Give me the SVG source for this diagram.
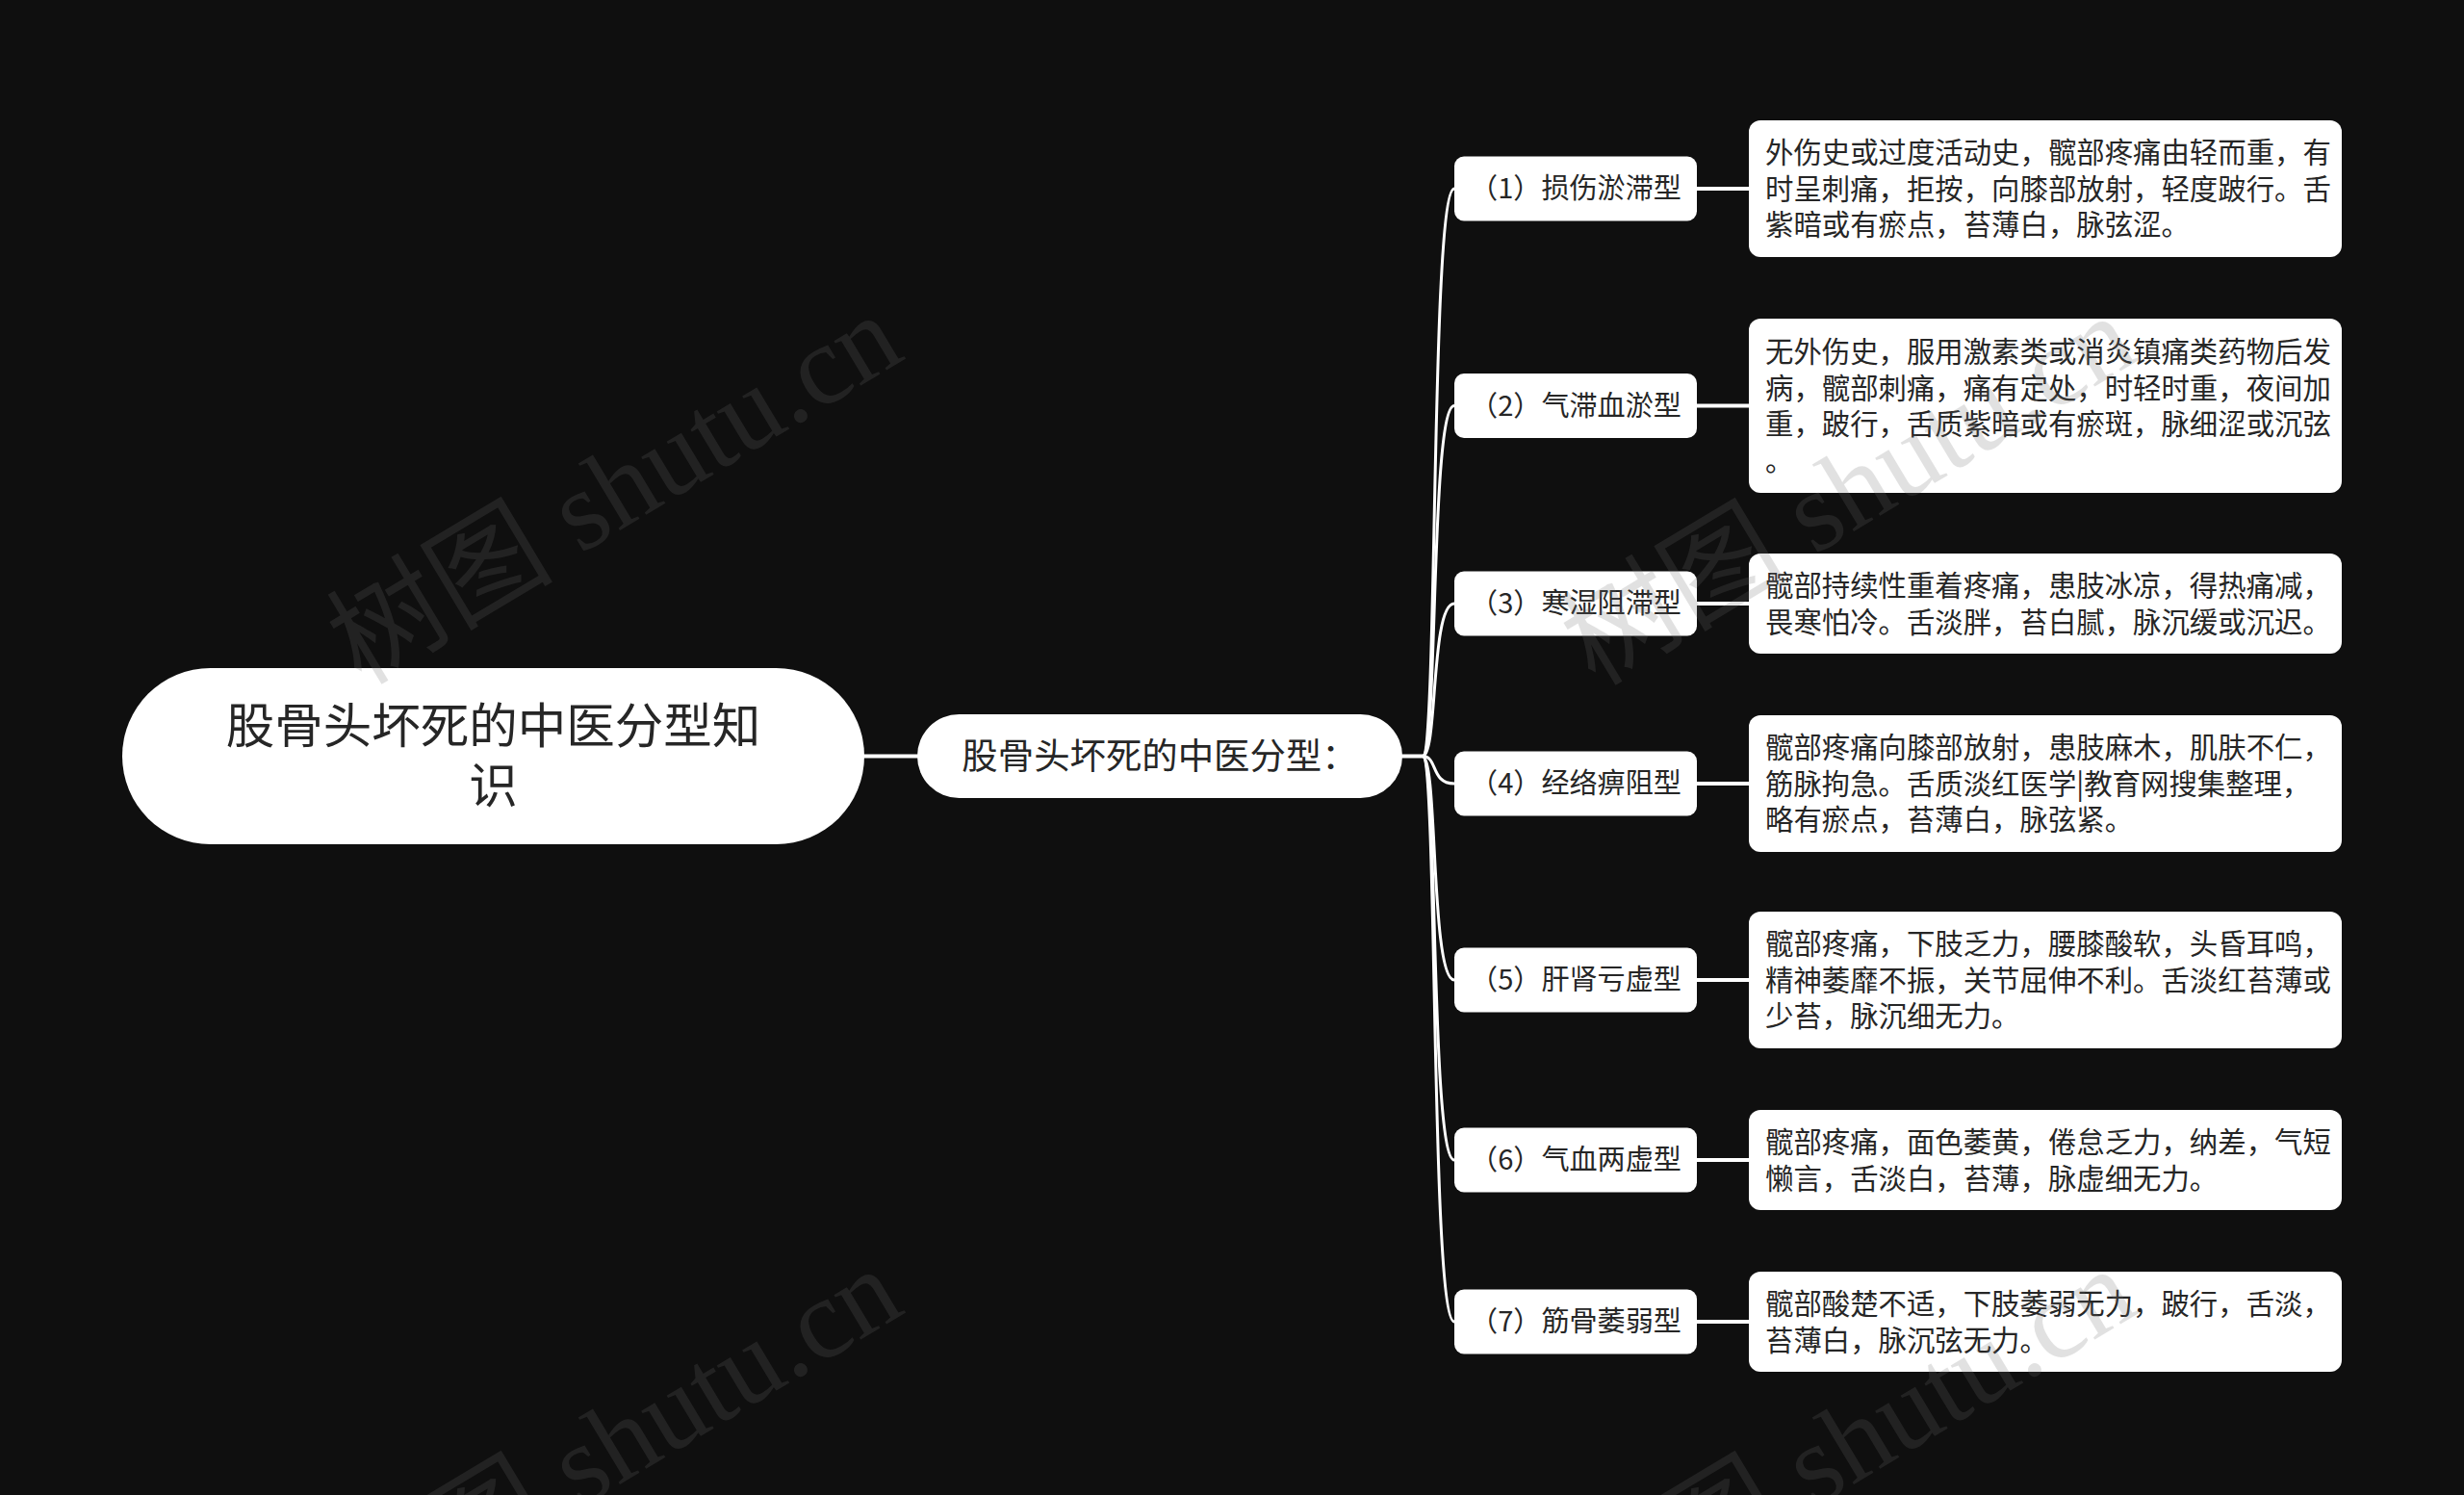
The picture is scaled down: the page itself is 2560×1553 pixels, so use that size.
<svg xmlns="http://www.w3.org/2000/svg" width="2560" height="1553" viewBox="0 0 2560 1553">
<style>
.bg{fill:#0f0f0f}
.node{fill:#ffffff}
.t{font-family:"Noto Sans CJK SC","Noto Sans",sans-serif;fill:#262626}
.root{font-size:50.5px}
.l1{font-size:37.4px}
.l2{font-size:29.1px}
.desc{font-size:29.4px}
.conn{fill:none;stroke:#ffffff;stroke-linecap:round}
.wm{font-family:"Liberation Serif","Noto Sans CJK SC",serif;font-size:118px;fill:#707070;opacity:0.2}
</style>
<rect class="bg" x="0" y="0" width="2560" height="1553"/>
<g id="connectors">
<path class="conn" stroke-width="4" d="M898 785.5 H953"/>
<path class="conn" stroke-width="4" d="M1457 785.5 H1478"/>
<path class="conn" stroke-width="3" d="M1478 785.5 C1494 785.5 1486 196 1511 196"/>
<path class="conn" stroke-width="3" d="M1478 785.5 C1494 785.5 1486 421.5 1511 421.5"/>
<path class="conn" stroke-width="3" d="M1478 785.5 C1494 785.5 1486 627 1511 627"/>
<path class="conn" stroke-width="3" d="M1478 785.5 C1494 785.5 1486 814 1511 814"/>
<path class="conn" stroke-width="3" d="M1478 785.5 C1494 785.5 1486 1018 1511 1018"/>
<path class="conn" stroke-width="3" d="M1478 785.5 C1494 785.5 1486 1205 1511 1205"/>
<path class="conn" stroke-width="3" d="M1478 785.5 C1494 785.5 1486 1373 1511 1373"/>
<path class="conn" stroke-width="4" d="M1763 196 H1817"/>
<path class="conn" stroke-width="4" d="M1763 421.5 H1817"/>
<path class="conn" stroke-width="4" d="M1763 627 H1817"/>
<path class="conn" stroke-width="4" d="M1763 814 H1817"/>
<path class="conn" stroke-width="4" d="M1763 1018 H1817"/>
<path class="conn" stroke-width="4" d="M1763 1205 H1817"/>
<path class="conn" stroke-width="4" d="M1763 1373 H1817"/>
</g>
<g id="root">
<rect class="node" x="127" y="694" width="771" height="183" rx="91.5"/>
<text class="t root" x="512.5" text-anchor="middle"><tspan x="512.5" y="772">股骨头坏死的中医分型知</tspan><tspan x="512.5" y="834">识</tspan></text>
</g>
<g id="main">
<rect class="node" x="953" y="742" width="504" height="87" rx="43.5"/>
<text class="t l1" x="1205" y="799" text-anchor="middle">股骨头坏死的中医分型：</text>
</g>
<g id="type1">
<rect class="node" x="1511" y="162.5" width="252" height="67" rx="10"/>
<text class="t l2" x="1637" y="206" text-anchor="middle">（1）损伤淤滞型</text>
</g>
<g id="type2">
<rect class="node" x="1511" y="388" width="252" height="67" rx="10"/>
<text class="t l2" x="1637" y="431.5" text-anchor="middle">（2）气滞血淤型</text>
</g>
<g id="type3">
<rect class="node" x="1511" y="593.5" width="252" height="67" rx="10"/>
<text class="t l2" x="1637" y="637" text-anchor="middle">（3）寒湿阻滞型</text>
</g>
<g id="type4">
<rect class="node" x="1511" y="780.5" width="252" height="67" rx="10"/>
<text class="t l2" x="1637" y="824" text-anchor="middle">（4）经络痹阻型</text>
</g>
<g id="type5">
<rect class="node" x="1511" y="984.5" width="252" height="67" rx="10"/>
<text class="t l2" x="1637" y="1028" text-anchor="middle">（5）肝肾亏虚型</text>
</g>
<g id="type6">
<rect class="node" x="1511" y="1171.5" width="252" height="67" rx="10"/>
<text class="t l2" x="1637" y="1215" text-anchor="middle">（6）气血两虚型</text>
</g>
<g id="type7">
<rect class="node" x="1511" y="1339.5" width="252" height="67" rx="10"/>
<text class="t l2" x="1637" y="1383" text-anchor="middle">（7）筋骨萎弱型</text>
</g>
<g id="desc1">
<rect class="node" x="1817" y="125" width="616" height="142" rx="12"/>
<text class="t desc"><tspan x="1834" y="169">外伤史或过度活动史，髋部疼痛由轻而重，有</tspan><tspan x="1834" y="206.5">时呈刺痛，拒按，向膝部放射，轻度跛行。舌</tspan><tspan x="1834" y="244">紫暗或有瘀点，苔薄白，脉弦涩。</tspan></text>
</g>
<g id="desc2">
<rect class="node" x="1817" y="331" width="616" height="181" rx="12"/>
<text class="t desc"><tspan x="1834" y="376">无外伤史，服用激素类或消炎镇痛类药物后发</tspan><tspan x="1834" y="413.5">病，髋部刺痛，痛有定处，时轻时重，夜间加</tspan><tspan x="1834" y="451">重，跛行，舌质紫暗或有瘀斑，脉细涩或沉弦</tspan><tspan x="1834" y="488.5">。</tspan></text>
</g>
<g id="desc3">
<rect class="node" x="1817" y="575" width="616" height="104" rx="12"/>
<text class="t desc"><tspan x="1834" y="619">髋部持续性重着疼痛，患肢冰凉，得热痛减，</tspan><tspan x="1834" y="656.5">畏寒怕冷。舌淡胖，苔白腻，脉沉缓或沉迟。</tspan></text>
</g>
<g id="desc4">
<rect class="node" x="1817" y="743" width="616" height="142" rx="12"/>
<text class="t desc"><tspan x="1834" y="787">髋部疼痛向膝部放射，患肢麻木，肌肤不仁，</tspan><tspan x="1834" y="824.5">筋脉拘急。舌质淡红医学|教育网搜集整理，</tspan><tspan x="1834" y="862">略有瘀点，苔薄白，脉弦紧。</tspan></text>
</g>
<g id="desc5">
<rect class="node" x="1817" y="947" width="616" height="142" rx="12"/>
<text class="t desc"><tspan x="1834" y="991">髋部疼痛，下肢乏力，腰膝酸软，头昏耳鸣，</tspan><tspan x="1834" y="1028.5">精神萎靡不振，关节屈伸不利。舌淡红苔薄或</tspan><tspan x="1834" y="1066">少苔，脉沉细无力。</tspan></text>
</g>
<g id="desc6">
<rect class="node" x="1817" y="1153" width="616" height="104" rx="12"/>
<text class="t desc"><tspan x="1834" y="1197">髋部疼痛，面色萎黄，倦怠乏力，纳差，气短</tspan><tspan x="1834" y="1234.5">懒言，舌淡白，苔薄，脉虚细无力。</tspan></text>
</g>
<g id="desc7">
<rect class="node" x="1817" y="1321" width="616" height="104" rx="12"/>
<text class="t desc"><tspan x="1834" y="1365">髋部酸楚不适，下肢萎弱无力，跛行，舌淡，</tspan><tspan x="1834" y="1402.5">苔薄白，脉沉弦无力。</tspan></text>
</g>
<g id="watermarks">
<text class="wm" x="645" y="519" text-anchor="middle" dominant-baseline="middle" transform="rotate(-31 645 519)">树图 shutu.cn</text>
<text class="wm" x="1927" y="520" text-anchor="middle" dominant-baseline="middle" transform="rotate(-31 1927 520)">树图 shutu.cn</text>
<text class="wm" x="645" y="1510" text-anchor="middle" dominant-baseline="middle" transform="rotate(-31 645 1510)">树图 shutu.cn</text>
<text class="wm" x="1927" y="1510" text-anchor="middle" dominant-baseline="middle" transform="rotate(-31 1927 1510)">树图 shutu.cn</text>
</g>
</svg>
